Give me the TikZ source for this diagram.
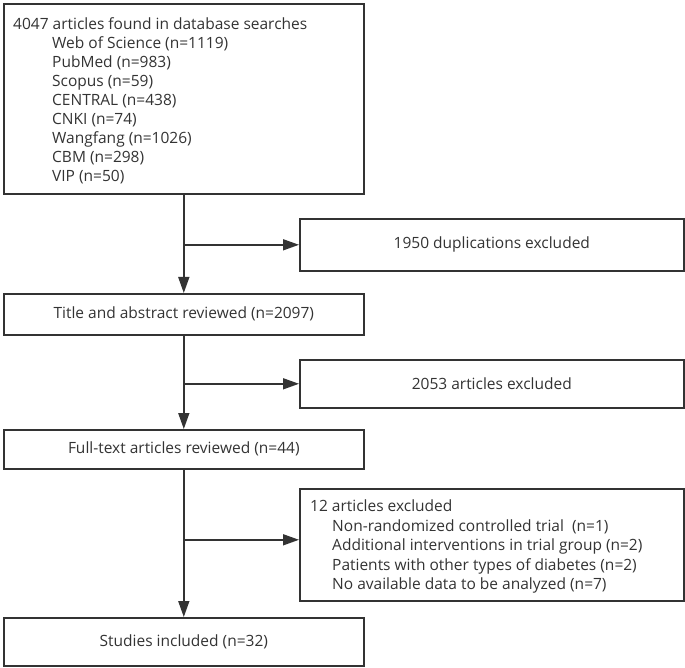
\documentclass[tikz,border=0pt]{standalone}
\usepackage{fontspec}
\setmainfont{Open Sans}
\usetikzlibrary{arrows.meta}
\definecolor{linec}{HTML}{333333}
\definecolor{textc}{HTML}{333333}
\begin{document}
\begin{tikzpicture}[x=1pt,y=-1pt,
  box/.style={draw=linec, line width=1.6pt, rectangle, inner sep=0pt, anchor=north west,
    text=textc, font=\fontsize{15.5}{19}\selectfont},
  txt/.style={text=textc, font=\fontsize{15.5}{19}\selectfont, inner sep=0pt, anchor=north west, align=left},
  arr/.style={draw=linec, line width=1.6pt, -{Triangle[length=16pt,width=11pt]}}]
\useasboundingbox (0,0) rectangle (685,668);
% left column
\node[box, minimum width=360pt, minimum height=190pt] (b1) at (3,3) {};
\node[txt] (t1) at (13,17.5) {4047 articles found in database searches\\
\hspace*{39pt}Web of Science (n=1119)\\
\hspace*{39pt}PubMed (n=983)\\
\hspace*{39pt}Scopus (n=59)\\
\hspace*{39pt}CENTRAL (n=438)\\
\hspace*{39pt}CNKI (n=74)\\
\hspace*{39pt}Wangfang (n=1026)\\
\hspace*{39pt}CBM (n=298)\\
\hspace*{39pt}VIP (n=50)};
\node[box, minimum width=360pt, minimum height=41pt] (b2) at (3,293) {Title and abstract reviewed (n=2097)};
\node[box, minimum width=360pt, minimum height=39pt] (b3) at (3,429) {Full-text articles reviewed (n=44)};
\node[box, minimum width=360pt, minimum height=48pt] (b4) at (3,617) {Studies included (n=32)};
% right column
\node[box, minimum width=384pt, minimum height=52pt] (d1) at (299,218) {1950 duplications excluded};
\node[box, minimum width=384pt, minimum height=48pt] (d2) at (299,359) {2053 articles excluded};
\node[box, minimum width=384pt, minimum height=112pt] (d3) at (299,488) {};
\node[txt, font=\fontsize{15.5}{19.5}\selectfont] (t3) at (310,500) {12 articles excluded\\
\hspace*{22pt}Non-randomized controlled trial\ \ (n=1)\\
\hspace*{22pt}Additional interventions in trial group (n=2)\\
\hspace*{22pt}Patients with other types of diabetes (n=2)\\
\hspace*{22pt}No available data to be analyzed (n=7)};
% connectors
\draw[arr] (b1.south) -- (b2.north);
\draw[arr] (b1.south |- d1.west) -- (d1.west);
\draw[arr] (b2.south) -- (b3.north);
\draw[arr] (b2.south |- d2.west) -- (d2.west);
\draw[arr] (b3.south) -- (b4.north);
\draw[arr] ([yshift=5pt]b3.south |- d3.west) -- ([yshift=5pt]d3.west);
\end{tikzpicture}
\end{document}
